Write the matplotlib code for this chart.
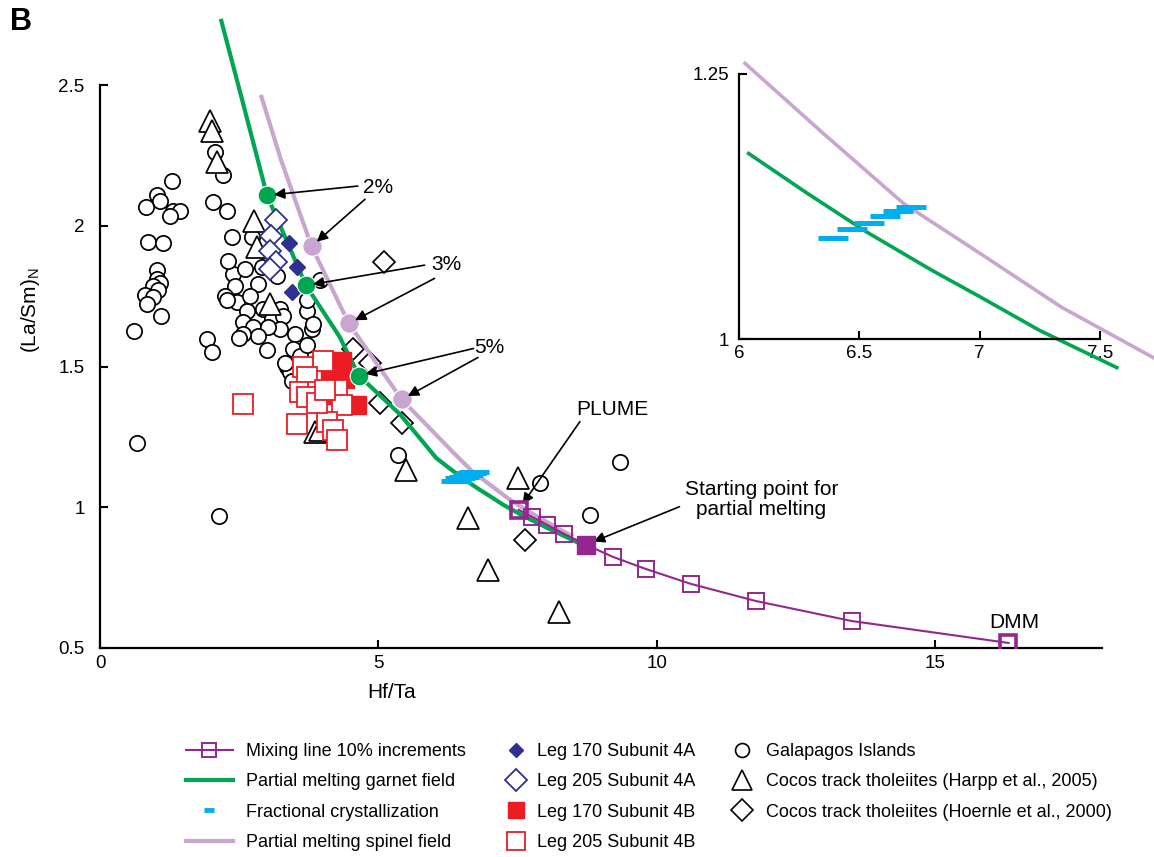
import numpy as np
import matplotlib
matplotlib.use("Agg")
import matplotlib.pyplot as plt
from matplotlib.lines import Line2D

plt.rcParams['font.family'] = ['Liberation Sans', 'DejaVu Sans']
plt.rcParams['mathtext.default'] = 'regular'

# ---------------- data ----------------
gal_x = [1.29, 1.02, 1.08, 0.83, 1.31, 1.44, 1.26, 2.03, 0.86, 1.13, 1.02, 1.02, 1.08, 0.95, 1.04,
         0.81, 0.95, 0.84, 1.09, 0.61, 1.92, 2.01, 0.66, 2.14, 2.06, 2.21, 2.28, 2.37, 2.73, 2.39,
         2.42, 2.24, 2.84, 2.91, 3.18, 2.46, 2.28, 2.64, 2.93, 3.23, 2.57, 2.75, 3.09, 3.29, 3.23,
         3.02, 2.84, 2.57, 3.50, 3.81, 3.72, 3.46, 3.59, 3.36, 3.41, 3.45, 3.32, 3.95, 3.72, 3.82,
         3.72, 5.35, 7.90, 8.80, 9.34, 2.30, 2.60, 2.70, 3.00, 2.50]
gal_y = [2.159, 2.109, 2.087, 2.066, 2.052, 2.052, 2.034, 2.084, 1.941, 1.938, 1.842, 1.810, 1.795,
         1.785, 1.771, 1.753, 1.746, 1.721, 1.678, 1.625, 1.596, 1.550, 1.230, 0.970, 2.262, 2.180,
         2.052, 1.959, 1.959, 1.827, 1.785, 1.749, 1.792, 1.852, 1.820, 1.728, 1.735, 1.696, 1.703,
         1.703, 1.657, 1.639, 1.667, 1.678, 1.632, 1.639, 1.607, 1.614, 1.614, 1.632, 1.696, 1.561,
         1.536, 1.500, 1.479, 1.447, 1.514, 1.806, 1.738, 1.650, 1.578, 1.186, 1.087, 0.973, 1.162,
         1.874, 1.845, 1.750, 1.560, 1.600]

harpp_x = [1.97, 2.01, 2.10, 2.76, 2.82, 3.05, 3.86, 3.95, 5.49, 7.50, 6.61, 6.97, 8.24]
harpp_y = [2.372, 2.336, 2.226, 2.016, 1.923, 1.721, 1.268, 1.276, 1.133, 1.105, 0.962, 0.778, 0.628]

hoernle_x = [5.10, 4.54, 4.85, 5.03, 5.42, 7.63]
hoernle_y = [1.870, 1.561, 1.514, 1.372, 1.301, 0.884]

leg170_4a_x = [3.39, 3.54, 3.45]
leg170_4a_y = [1.938, 1.852, 1.763]
leg205_4a_x = [3.16, 3.07, 3.05, 3.16, 3.05]
leg205_4a_y = [2.020, 1.963, 1.909, 1.870, 1.845]

leg170_4b_x = [4.34, 4.40, 4.61, 4.13, 4.24]
leg170_4b_y = [1.518, 1.454, 1.365, 1.461, 1.400]
leg205_4b_x = [4.00, 3.64, 3.72, 3.59, 3.91, 3.72, 4.25, 4.34, 3.54, 4.07, 4.18, 4.25, 3.90, 2.57, 4.04]
leg205_4b_y = [1.518, 1.497, 1.464, 1.411, 1.411, 1.390, 1.418, 1.365, 1.294, 1.304, 1.276, 1.240,
               1.372, 1.368, 1.418]

garnet_x = [2.17, 2.55, 3.00, 3.70, 4.30, 4.65, 5.39, 6.04, 6.28, 6.53, 6.80, 7.00, 7.25, 7.57, 8.00, 8.60]
garnet_y = [2.735, 2.45, 2.108, 1.788, 1.607, 1.468, 1.33, 1.175, 1.138, 1.101, 1.065, 1.040, 1.008,
            0.973, 0.930, 0.873]
spinel_x = [2.89, 3.25, 3.80, 4.47, 5.42, 6.025, 6.35, 6.683, 7.00, 7.34, 7.725, 8.50]
spinel_y = [2.465, 2.235, 1.927, 1.653, 1.383, 1.260, 1.194, 1.128, 1.081, 1.030, 0.982, 0.895]

garnet_pct_x = [3.00, 3.70, 4.65]
garnet_pct_y = [2.108, 1.788, 1.468]
spinel_pct_x = [3.80, 4.47, 5.42]
spinel_pct_y = [1.927, 1.653, 1.383]
pct_labels = ['2%', '3%', '5%']

fc_x = [6.39, 6.47, 6.54, 6.605, 6.66, 6.715]
fc_y = [1.095, 1.104, 1.109, 1.116, 1.121, 1.125]

mix_x = [7.52, 7.76, 8.03, 8.33, 8.73, 9.21, 9.80, 10.61, 11.78, 13.50, 16.32]
mix_y = [0.991, 0.966, 0.938, 0.906, 0.867, 0.824, 0.781, 0.728, 0.667, 0.596, 0.518]
start_idx = 4

x_ticks = [0, 5, 10, 15]
y_ticks = [0.5, 1, 1.5, 2, 2.5]
y_ticklabels = ['0.5', '1', '1.5', '2', '2.5']
inset_x_ticks = [6, 6.5, 7, 7.5]
inset_y_ticks = [1, 1.25]

# ---------------- style ----------------
GREEN = '#00A651'
PINK = '#C9A6CF'
PURPLE = '#93278F'
NAVY = '#2E3192'
RED = '#ED1C24'
CYAN = '#00AEEF'

W, H = 1154, 857
fig = plt.figure(figsize=(W / 100, H / 100), dpi=100)
ax = fig.add_axes([100 / W, (H - 648) / H, 1002 / W, 563 / H])

# scatter data
ax.plot(gal_x, gal_y, 'o', ms=11, mfc='white', mec='black', mew=1.25, zorder=2)
ax.plot(harpp_x, harpp_y, '^', ms=16.5, mfc='white', mec='black', mew=1.25, zorder=2.1)
ax.plot(hoernle_x, hoernle_y, 'D', ms=11, mfc='white', mec='black', mew=1.25, zorder=2.2)

# model lines
ax.plot(garnet_x, garnet_y, '-', color=GREEN, lw=3, zorder=3, clip_on=False, solid_capstyle='butt')
ax.plot(spinel_x, spinel_y, '-', color=PINK, lw=3, zorder=3, clip_on=False, solid_capstyle='butt')
ax.plot(fc_x, fc_y, '_', ms=21.5, mew=3.6, color=CYAN, zorder=4)
ax.plot(mix_x, mix_y, '-', color=PURPLE, lw=1.5, zorder=4)
ax.plot(mix_x, mix_y, 's', ms=12, mfc='none', mec=PURPLE, mew=1.4, zorder=4.1)
ax.plot([mix_x[0], mix_x[-1]], [mix_y[0], mix_y[-1]], 's', ms=12, mfc='none', mec=PURPLE, mew=2.6, zorder=4.1)
ax.plot(mix_x[start_idx], mix_y[start_idx], 's', ms=12.5, mfc=PURPLE, mec=PURPLE, zorder=4.2)

ax.plot(leg205_4a_x, leg205_4a_y, 'D', ms=11.5, mfc='white', mec=NAVY, mew=1.3, zorder=5)
ax.plot(leg170_4a_x, leg170_4a_y, 'D', ms=8, mfc=NAVY, mec=NAVY, zorder=5.1)
ax.plot(leg170_4b_x, leg170_4b_y, 's', ms=12.5, mfc=RED, mec=RED, zorder=5)
ax.plot(leg205_4b_x, leg205_4b_y, 's', ms=14.5, mfc='white', mec=RED, mew=1.3, zorder=5.1)

ax.plot(garnet_pct_x, garnet_pct_y, 'o', ms=13.5, mfc=GREEN, mec='white', mew=0.8, zorder=6)
ax.plot(spinel_pct_x, spinel_pct_y, 'o', ms=14, mfc=PINK, mec='white', mew=0.8, zorder=6)

# axes styling
ax.set_xlim(0, 18)
ax.set_ylim(0.5, 2.5)
for s in ['top', 'right']:
    ax.spines[s].set_visible(False)
for s in ['left', 'bottom']:
    ax.spines[s].set_linewidth(1.6)
ax.set_xticks(x_ticks)
ax.set_yticks(y_ticks)
ax.set_yticklabels(y_ticklabels)
ax.tick_params(direction='in', length=5.5, width=1.5, labelsize=13.5)
ax.tick_params(axis='y', pad=11)
ax.tick_params(axis='x', pad=5)
ax.set_xlabel('Hf/Ta', fontsize=15)
ax.xaxis.set_label_coords(0.291, -0.062)
ax.set_ylabel('(La/Sm)$_N$', fontsize=15)
ax.yaxis.set_label_coords(-0.058, 0.60)

# annotations
arrow_kw = dict(arrowstyle='-|>', color='black', lw=1.2, mutation_scale=16, shrinkA=0)
text_pos = [(5.0, 2.137), (6.23, 1.863), (7.0, 1.567)]
start_g = [(4.63, 2.141), (5.83, 1.860), (6.71, 1.564)]
start_s = [(4.76, 2.094), (6.01, 1.813), (6.79, 1.532)]
for i in range(3):
    ax.text(*text_pos[i], pct_labels[i], fontsize=15, ha='center', va='center', zorder=7)
    ax.annotate('', xy=(garnet_pct_x[i], garnet_pct_y[i]), xytext=start_g[i],
                arrowprops=dict(arrow_kw, shrinkB=5), zorder=7)
    ax.annotate('', xy=(spinel_pct_x[i], spinel_pct_y[i]), xytext=start_s[i],
                arrowprops=dict(arrow_kw, shrinkB=5), zorder=7)

ax.text(9.21, 1.347, 'PLUME', fontsize=15, ha='center', va='center')
ax.annotate('', xy=(mix_x[0], mix_y[0]), xytext=(8.62, 1.304),
            arrowprops=dict(arrow_kw, shrinkB=5))
ax.text(11.88, 1.027, 'Starting point for\npartial melting', fontsize=15, ha='center', va='center',
        linespacing=1.05)
ax.annotate('', xy=(mix_x[start_idx], mix_y[start_idx]), xytext=(10.41, 1.002),
            arrowprops=dict(arrow_kw, shrinkB=6))
ax.text(16.43, 0.589, 'DMM', fontsize=15, ha='center', va='center')

fig.text(10 / W, 1 - 22 / H, 'B', fontsize=22, fontweight='bold', ha='left', va='center')

# ---------------- inset ----------------
ax2 = fig.add_axes([739 / W, (H - 339) / H, 361 / W, 265 / H])
gx = np.array(garnet_x); gy = np.array(garnet_y)
sx = np.array(spinel_x); sy = np.array(spinel_y)
gm = (gx >= 6.0) & (gx <= 7.6)
sm = (sx >= 6.0) & (sx <= 7.8)
ax2.plot(sx[sm], sy[sm], '-', color=PINK, lw=2.6, clip_on=False)
ax2.plot(gx[gm], gy[gm], '-', color=GREEN, lw=2.6, clip_on=False)
ax2.plot(fc_x, fc_y, '_', ms=21.5, mew=3.6, color=CYAN)
ax2.set_xlim(6, 7.5)
ax2.set_ylim(1, 1.25)
for s in ['top', 'right']:
    ax2.spines[s].set_visible(False)
for s in ['left', 'bottom']:
    ax2.spines[s].set_linewidth(1.6)
ax2.set_xticks(inset_x_ticks)
ax2.set_xticklabels(['6', '6.5', '7', '7.5'])
ax2.set_yticks(inset_y_ticks)
ax2.set_yticklabels(['1', '1.25'])
ax2.tick_params(direction='in', length=5.5, width=1.5, labelsize=13.5)
ax2.tick_params(axis='y', pad=7)
ax2.tick_params(axis='x', pad=4)
ax2.patch.set_alpha(0)

# ---------------- legend ----------------
fs = 13
h1 = [Line2D([], [], color=PURPLE, lw=1.5, marker='s', ms=10, mfc='none', mec=PURPLE, mew=1.4),
      Line2D([], [], color=GREEN, lw=3),
      Line2D([], [], ls='none', marker='_', ms=7, mew=3.5, color=CYAN),
      Line2D([], [], color=PINK, lw=3)]
l1 = ['Mixing line 10% increments', 'Partial melting garnet field',
      'Fractional crystallization', 'Partial melting spinel field']
h2 = [Line2D([], [], ls='none', marker='D', ms=7, mfc=NAVY, mec=NAVY),
      Line2D([], [], ls='none', marker='D', ms=11, mfc='white', mec=NAVY, mew=1.3),
      Line2D([], [], ls='none', marker='s', ms=11, mfc=RED, mec=RED),
      Line2D([], [], ls='none', marker='s', ms=13, mfc='white', mec=RED, mew=1.3)]
l2 = ['Leg 170 Subunit 4A', 'Leg 205 Subunit 4A', 'Leg 170 Subunit 4B', 'Leg 205 Subunit 4B']
h3 = [Line2D([], [], ls='none', marker='o', ms=10, mfc='white', mec='black', mew=1.2),
      Line2D([], [], ls='none', marker='^', ms=15, mfc='white', mec='black', mew=1.2),
      Line2D([], [], ls='none', marker='D', ms=11, mfc='white', mec='black', mew=1.2)]
l3 = ['Galapagos Islands', 'Cocos track tholeiites (Harpp et al., 2005)',
      'Cocos track tholeiites (Hoernle et al., 2000)']

common = dict(frameon=False, fontsize=fs, loc='upper left', borderaxespad=0, borderpad=0,
              labelspacing=0.74)
top = 1 - 743 / H
fig.legend(h1, l1, bbox_to_anchor=(186 / W, top), handlelength=2.6,
           handletextpad=0.7, **common)
fig.legend(h2, l2, bbox_to_anchor=(506 / W, top), handlelength=1.15,
           handletextpad=0.55, **common)
fig.legend(h3, l3, bbox_to_anchor=(731 / W, top), handlelength=1.25,
           handletextpad=0.7, **common)

fig.savefig('out.png', dpi=100)
